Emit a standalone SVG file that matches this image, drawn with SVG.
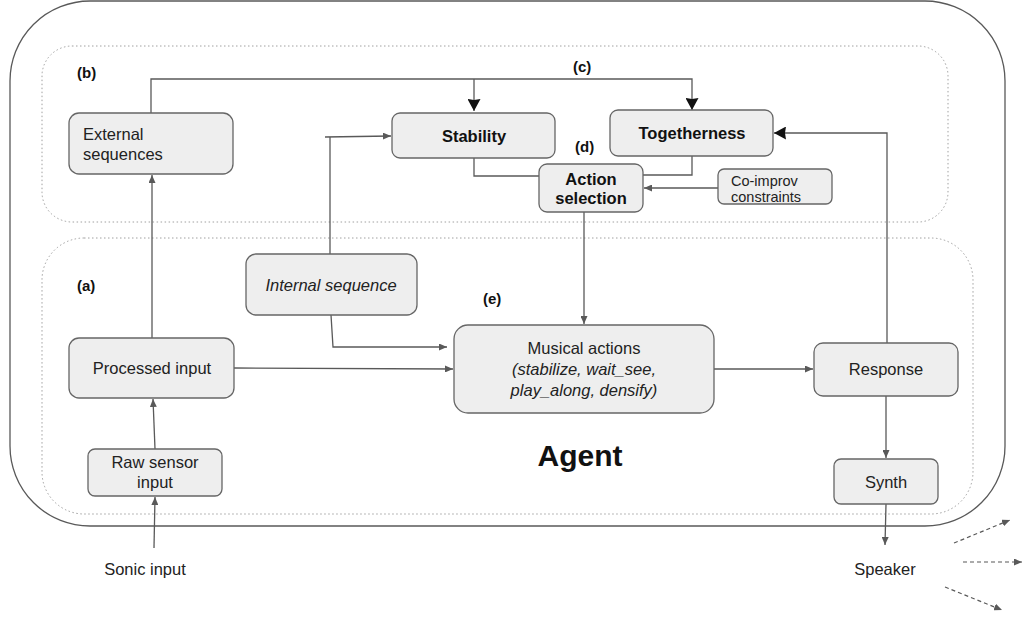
<svg xmlns="http://www.w3.org/2000/svg" width="1027" height="619" viewBox="0 0 1027 619">
<defs>
<marker id="a" markerUnits="userSpaceOnUse" markerWidth="8" markerHeight="7" refX="8" refY="3.5" orient="auto"><path d="M0,0 L8,3.5 L0,7 z" fill="#595959"/></marker>
<marker id="b" markerUnits="userSpaceOnUse" markerWidth="13" markerHeight="13" refX="12" refY="6.5" orient="auto"><path d="M0,0 L12,6.5 L0,13 L1,6.5 z" fill="#111"/></marker>
<style>
.box{fill:#eeeeee;stroke:#666;stroke-width:1.3}
.ln{fill:none;stroke:#595959;stroke-width:1.3}
.dl{fill:none;stroke:#595959;stroke-width:1.2;stroke-dasharray:4 3}
.dot{fill:none;stroke:#a0a0a0;stroke-width:1;stroke-dasharray:1.5 2.5}
text{font-family:"Liberation Sans",Arial,sans-serif;fill:#222;font-size:16.5px}
.c{text-anchor:middle}
.bd{font-weight:bold;fill:#111}
.it{font-style:italic}
.lb{font-weight:bold;font-size:15px;fill:#111}
</style>
</defs>
<rect id="agent-frame" x="10" y="1" width="995" height="525" rx="80" ry="80" fill="none" stroke="#595959" stroke-width="1.3"/>
<rect id="region-b" class="dot" x="42" y="46" width="906" height="176" rx="30" ry="30"/>
<rect id="region-a" class="dot" x="42" y="238" width="931" height="276" rx="42" ry="42"/>
<text class="lb" x="77" y="78">(b)</text>
<text class="lb" x="573" y="72">(c)</text>
<text class="lb" x="575" y="152">(d)</text>
<text class="lb" x="77" y="291">(a)</text>
<text class="lb" x="483" y="304">(e)</text>
<text x="580" y="466" class="c bd" style="font-size:30px">Agent</text>
<g id="connectors">
<path class="ln" d="M152,338 L152,175" marker-end="url(#a)"/>
<path class="ln" d="M151,113 L151,79 L692,79 L692,110" marker-end="url(#b)"/>
<path class="ln" d="M474,79 L474,111" marker-end="url(#b)"/>
<path class="ln" d="M330,254 L330,137"/>
<path class="ln" d="M325,137 L391,136" marker-end="url(#a)"/>
<path class="ln" d="M331,315 L333,347 L447,347" marker-end="url(#a)"/>
<path class="ln" d="M234,368 L453,369" marker-end="url(#a)"/>
<path class="ln" d="M474,158 L474,176 L539,176"/>
<path class="ln" d="M692,156 L692,175 L643,175"/>
<path class="ln" d="M718,188 L644,188" marker-end="url(#a)"/>
<path class="ln" d="M584,212 L584,324" marker-end="url(#a)"/>
<path class="ln" d="M714,369 L813,369" marker-end="url(#a)"/>
<path class="ln" d="M887,343 L887,133 L774,133" marker-end="url(#b)"/>
<path class="ln" d="M886,396 L886,458" marker-end="url(#a)"/>
<path class="ln" d="M886,504 L885,545" marker-end="url(#a)"/>
<path class="ln" d="M154,548 L155,497" marker-end="url(#a)"/>
<path class="ln" d="M155,449 L153,399" marker-end="url(#a)"/>
<path class="dl" d="M954,543 L1010,520" marker-end="url(#a)"/>
<path class="dl" d="M963,562 L1022,562" marker-end="url(#a)"/>
<path class="dl" d="M945,587 L1002,610" marker-end="url(#a)"/>
</g>
<g id="external-sequences"><rect class="box" x="69" y="113" width="164" height="61" rx="10"/><text x="83" y="140">External</text><text x="83" y="160">sequences</text></g>
<g id="stability"><rect class="box" x="392" y="113" width="163" height="45" rx="8"/><text class="c bd" x="474" y="142">Stability</text></g>
<g id="togetherness"><rect class="box" x="610" y="110" width="163" height="46" rx="8"/><text class="c bd" x="692" y="139">Togetherness</text></g>
<g id="action-selection"><rect class="box" x="539" y="164" width="104" height="48" rx="8"/><text class="c bd" x="591" y="185">Action</text><text class="c bd" x="591" y="204">selection</text></g>
<g id="co-improv"><rect class="box" x="718" y="169" width="114" height="35" rx="6"/><text x="731" y="186" style="font-size:14.5px">Co-improv</text><text x="731" y="202" style="font-size:14.5px">constraints</text></g>
<g id="internal-sequence"><rect class="box" x="246" y="254" width="171" height="61" rx="10"/><text class="c it" x="331" y="291">Internal sequence</text></g>
<g id="processed-input"><rect class="box" x="69" y="338" width="165" height="60" rx="10"/><text class="c" x="152" y="374">Processed input</text></g>
<g id="raw-sensor-input"><rect class="box" x="88" y="449" width="134" height="47" rx="7"/><text class="c" x="155" y="468">Raw sensor</text><text class="c" x="155" y="488">input</text></g>
<g id="musical-actions"><rect class="box" x="454" y="325" width="260" height="88" rx="14"/><text class="c" x="584" y="354">Musical actions</text><text class="c it" x="584" y="375">(stabilize, wait_see,</text><text class="c it" x="584" y="396">play_along, densify)</text></g>
<g id="response"><rect class="box" x="814" y="343" width="144" height="53" rx="9"/><text class="c" x="886" y="375">Response</text></g>
<g id="synth"><rect class="box" x="834" y="459" width="104" height="45" rx="7"/><text class="c" x="886" y="488">Synth</text></g>
<g id="sonic-input"><text class="c" x="145" y="575">Sonic input</text></g>
<g id="speaker"><text class="c" x="885" y="575">Speaker</text></g>
</svg>
